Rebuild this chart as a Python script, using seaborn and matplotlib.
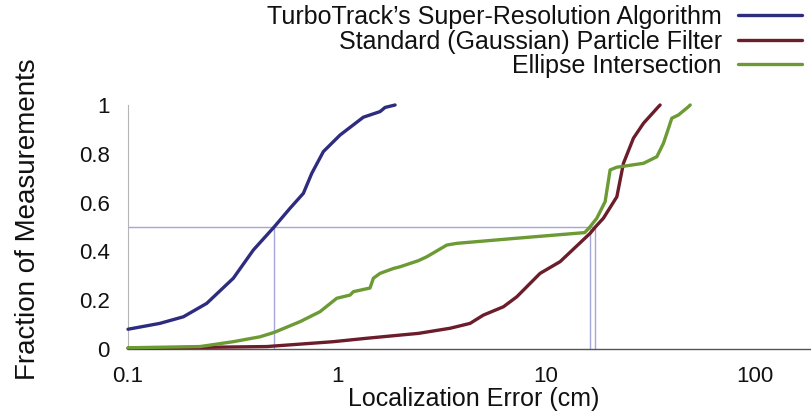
import matplotlib
matplotlib.use("Agg")
import matplotlib.pyplot as plt
import numpy as np
import pandas as pd
import seaborn as sns

# Localization error CDFs (x in cm, y = fraction of measurements)
turbo_err = [0.1, 0.142, 0.184, 0.238, 0.319, 0.398, 0.5, 0.596, 0.69, 0.757, 0.86, 1.034, 1.336, 1.606, 1.697, 1.895]
turbo_cdf = [0.081, 0.105, 0.132, 0.187, 0.29, 0.406, 0.5, 0.577, 0.638, 0.72, 0.809, 0.877, 0.95, 0.973, 0.99, 1.0]

pf_err = [0.1, 0.461, 0.96, 1.387, 2.002, 2.449, 3.473, 4.329, 5.012, 6.248, 7.242, 9.36, 11.67, 16.24, 17.2, 18.8, 21.8, 23.44, 26.17, 29.22, 34.46, 35.1]
pf_cdf = [0.003, 0.01, 0.03, 0.044, 0.057, 0.064, 0.085, 0.105, 0.139, 0.173, 0.214, 0.31, 0.358, 0.474, 0.5, 0.536, 0.624, 0.761, 0.864, 0.925, 0.993, 1.0]

ellipse_err = [0.1, 0.221, 0.319, 0.428, 0.5, 0.665, 0.829, 0.997, 1.154, 1.197, 1.438, 1.492, 1.606, 1.86, 2.002, 2.449, 2.687, 3.349, 3.738, 7.242, 15.3, 16.2, 17.48, 19.16, 20.24, 21.8, 29.22, 33.86, 36.41, 37.8, 39.94, 42.95, 47.96, 48.9]
ellipse_cdf = [0.005, 0.01, 0.03, 0.05, 0.068, 0.112, 0.153, 0.208, 0.221, 0.235, 0.25, 0.29, 0.31, 0.33, 0.337, 0.362, 0.378, 0.426, 0.433, 0.454, 0.477, 0.5, 0.536, 0.604, 0.734, 0.745, 0.761, 0.788, 0.843, 0.884, 0.946, 0.959, 0.993, 1.0]

# Median errors marked by guide lines
medians = [0.5, 16.2, 17.2]

methods = ["TurboTrack\u2019s Super-Resolution Algorithm",
           "Standard (Gaussian) Particle Filter",
           "Ellipse Intersection"]
colors = ["#2d2c7e", "#6b1d2a", "#6c9a34"]

x_ticks = [0.1, 1, 10, 100]
x_tick_labels = ["0.1", "1", "10", "100"]
y_ticks = [0, 0.2, 0.4, 0.6, 0.8, 1]
y_tick_labels = ["0", "0.2", "0.4", "0.6", "0.8", "1"]

df = pd.concat([
    pd.DataFrame({"err": turbo_err, "cdf": turbo_cdf, "method": methods[0]}),
    pd.DataFrame({"err": pf_err, "cdf": pf_cdf, "method": methods[1]}),
    pd.DataFrame({"err": ellipse_err, "cdf": ellipse_cdf, "method": methods[2]}),
], ignore_index=True)

sns.set_theme(style="white")
plt.rcParams["font.family"] = ["Liberation Sans", "DejaVu Sans"]

fig = plt.figure(figsize=(8.11, 4.13), dpi=100)
ax = fig.add_axes([128 / 811, 1 - 349 / 413, 683 / 811, 244 / 413])

# guide lines at the median of each method
guide = "#a3a7d8"
ax.hlines(0.5, 0.1, max(medians), color=guide, lw=1.0, zorder=1)
ax.vlines(medians, 0, 0.5, color=guide, lw=1.0, zorder=1)

sns.lineplot(data=df, x="err", y="cdf", hue="method", hue_order=methods,
             palette=colors, estimator=None, sort=True, lw=2.4, ax=ax,
             legend=False, zorder=3)
for ln in ax.get_lines():
    ln.set_clip_on(False)

ax.set_xscale("log")
ax.set_xlim(0.1, 185)
ax.set_ylim(0, 1)
ax.set_xticks(x_ticks)
ax.set_xticklabels(x_tick_labels)
ax.set_yticks(y_ticks)
ax.set_yticklabels(y_tick_labels)

ax.tick_params(axis="x", which="major", direction="in", length=4, color="#999999",
               labelsize=16, pad=12, labelcolor="#111111")
ax.tick_params(axis="x", which="minor", direction="in", length=3, color="#bbbbbb")
ax.tick_params(axis="y", direction="in", length=3, color="#bbbbbb",
               labelsize=16, pad=13, labelcolor="#111111")

for s in ["top", "right"]:
    ax.spines[s].set_visible(False)
ax.spines["left"].set_color("#b5b5b5")
ax.spines["left"].set_linewidth(0.8)
ax.spines["bottom"].set_color("#555555")
ax.spines["bottom"].set_linewidth(1.0)

ax.set_xlabel("Localization Error (cm)", fontsize=18, color="#111111")
ax.xaxis.set_label_coords(0.506, -0.155)
ax.set_ylabel("Fraction of Measurements", fontsize=20, color="#111111")
ax.yaxis.set_label_coords(-0.128, 0.53)

handles = [plt.Line2D([], [], color=c, lw=2.4) for c in colors]
leg = ax.legend(handles, methods, loc="upper right",
                bbox_to_anchor=(802 / 811, 1 - 5 / 413),
                bbox_transform=fig.transFigure, frameon=False,
                markerfirst=False, fontsize=18, handlelength=2.55,
                handletextpad=0.65, labelspacing=0.02, borderpad=0,
                borderaxespad=0)
for col in leg._legend_handle_box.get_children():
    col.align = "right"
for t in leg.get_texts():
    t.set_color("#111111")

fig.savefig("out.png", dpi=100)
